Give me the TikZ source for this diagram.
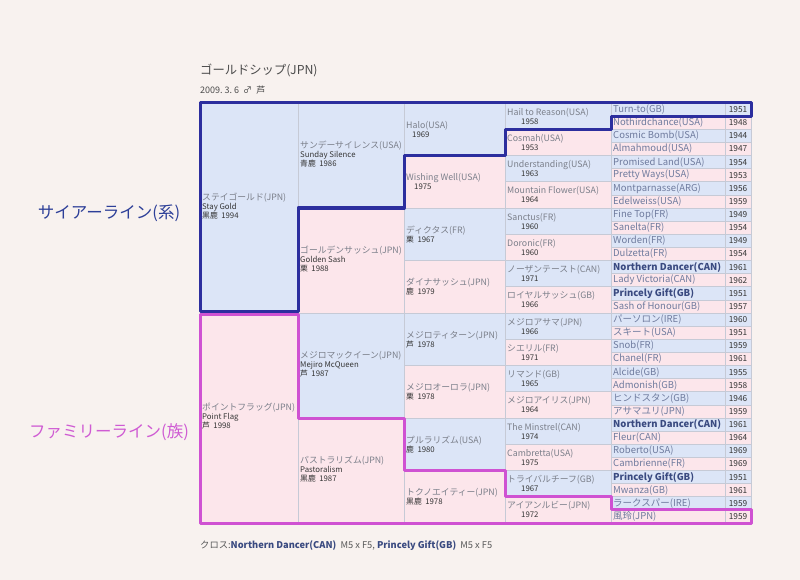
\documentclass[tikz,border=0pt]{standalone}
\usepackage{fontspec}
\setmainfont{Noto Sans CJK JP}
\usetikzlibrary{positioning}

\definecolor{pagebg}{HTML}{F8F2EF}
\definecolor{cell0}{HTML}{DCE5F7}
\definecolor{cell1}{HTML}{FCE6EB}
\definecolor{gridline}{HTML}{C6CAD6}
\definecolor{sireblue}{HTML}{2C2E9E}
\definecolor{familypink}{HTML}{CF52D2}
\definecolor{namegray}{HTML}{7B7F8A}
\definecolor{subdark}{HTML}{353535}
\definecolor{gfivename}{HTML}{6F7B9E}
\definecolor{crossblue}{HTML}{3A4A80}
\definecolor{labelblue}{HTML}{2D3F98}
\definecolor{labelpink}{HTML}{CF5BD3}

\newcommand{\rowh}{13.125}
\newcommand{\tabtop}{103}
\newcommand{\horsename}[1]{{\fontsize{8.8}{9}\selectfont\color{namegray}#1}}
\newcommand{\crossname}[1]{{\bfseries\color{crossblue}#1}}

\tikzset{
  cellbox/.style={draw=gridline, line width=0.6pt},
  celltext/.style={anchor=west, align=left, inner sep=1pt, text=subdark,
    font=\fontsize{7.8}{9}\selectfont},
  gfivetext/.style={anchor=west, inner sep=1pt, text=gfivename,
    font=\fontsize{9.5}{9}\selectfont},
  yeartext/.style={inner sep=0pt, text=subdark, font=\fontsize{8.3}{8}\selectfont},
  sireline/.style={draw=sireblue, line width=3pt, line join=round},
  familyline/.style={draw=familypink, line width=3pt, line join=round},
  sidelabel/.style={font=\fontsize{16.5}{18}\selectfont}
}

\begin{document}
\begin{tikzpicture}[x=1pt,y=-1pt]
    \fill[pagebg] (0,0) rectangle (800,580);
    \useasboundingbox (0,0) rectangle (800,580);

    % title
    \node[anchor=west, inner sep=0pt, text=black!70, font=\fontsize{12.3}{12}\selectfont] (title) at (200,70) {ゴールドシップ(JPN)};
    \node[anchor=west, inner sep=0pt, text=black!70, font=\fontsize{9}{9}\selectfont] (born) at (200,90) {2009.\ 3.\ 6\ \ ♂\ \ 芦};

    % generation 1
    \foreach \i/\nm/\en/\yr in {0/ステイゴールド(JPN)/Stay Gold/黒鹿\ \ 1994, 1/ポイントフラッグ(JPN)/Point Flag/芦\ \ 1998} {
        \draw[cellbox, fill=cell\i] (200,{\tabtop+\i*16*\rowh}) rectangle (298,{\tabtop+(\i+1)*16*\rowh});
        \node[celltext] (gen1-\i) at (201,{\tabtop+(\i+0.49)*16*\rowh}) {\horsename{\nm}\\\en\\\yr};
    }

    % generation 2
    \foreach \i/\nm/\en/\yr in {0/サンデーサイレンス(USA)/Sunday Silence/青鹿\ \ 1986, 1/ゴールデンサッシュ(JPN)/Golden Sash/栗\ \ 1988,
                                2/メジロマックイーン(JPN)/Mejiro McQueen/芦\ \ 1987, 3/パストラリズム(JPN)/Pastoralism/黒鹿\ \ 1987} {
        \pgfmathtruncatemacro\s{mod(\i,2)}
        \draw[cellbox, fill=cell\s] (298,{\tabtop+\i*8*\rowh}) rectangle (404,{\tabtop+(\i+1)*8*\rowh});
        \node[celltext] (gen2-\i) at (299,{\tabtop+(\i+0.49)*8*\rowh}) {\horsename{\nm}\\\en\\\yr};
    }

    % generation 3
    \foreach \i/\nm/\yr in {0/Halo(USA)/\hspace*{6pt}1969, 1/Wishing Well(USA)/\hspace*{8pt}1975,
                            2/ディクタス(FR)/栗\ \ 1967, 3/ダイナサッシュ(JPN)/鹿\ \ 1979,
                            4/メジロティターン(JPN)/芦\ \ 1978, 5/メジロオーロラ(JPN)/栗\ \ 1978,
                            6/プルラリズム(USA)/鹿\ \ 1980, 7/トクノエイティー(JPN)/黒鹿\ \ 1978} {
        \pgfmathtruncatemacro\s{mod(\i,2)}
        \draw[cellbox, fill=cell\s] (404,{\tabtop+\i*4*\rowh}) rectangle (505,{\tabtop+(\i+1)*4*\rowh});
        \node[celltext] (gen3-\i) at (405,{\tabtop+(\i+0.5)*4*\rowh}) {\horsename{\nm}\\\yr};
    }

    % generation 4
    \foreach \nm/\yr [count=\i from 0] in {Hail to Reason(USA)/1958, Cosmah(USA)/1953, Understanding(USA)/1963,
            Mountain Flower(USA)/1964, Sanctus(FR)/1960, Doronic(FR)/1960, ノーザンテースト(CAN)/1971,
            ロイヤルサッシュ(GB)/1966, メジロアサマ(JPN)/1966, シエリル(FR)/1971, リマンド(GB)/1965,
            メジロアイリス(JPN)/1964, The Minstrel(CAN)/1974, Cambretta(USA)/1975,
            トライバルチーフ(GB)/1967, アイアンルビー(JPN)/1972} {
        \pgfmathtruncatemacro\s{mod(\i,2)}
        \draw[cellbox, fill=cell\s] (505,{\tabtop+\i*2*\rowh}) rectangle (611,{\tabtop+(\i+1)*2*\rowh});
        \node[celltext] (gen4-\i) at (506,{\tabtop+(\i+0.5)*2*\rowh}) {\horsename{\nm}\\\hspace*{14pt}\yr};
    }

    % generation 5
    \foreach \nm/\yr [count=\i from 0] in {Turn-to(GB)/1951, Nothirdchance(USA)/1948, Cosmic Bomb(USA)/1944,
            Almahmoud(USA)/1947, Promised Land(USA)/1954, Pretty Ways(USA)/1953, Montparnasse(ARG)/1956,
            Edelweiss(USA)/1959, Fine Top(FR)/1949, Sanelta(FR)/1954, Worden(FR)/1949, Dulzetta(FR)/1954,
            \crossname{Northern Dancer(CAN)}/1961, Lady Victoria(CAN)/1962, \crossname{Princely Gift(GB)}/1951,
            Sash of Honour(GB)/1957, パーソロン(IRE)/1960, スキート(USA)/1951, Snob(FR)/1959, Chanel(FR)/1961,
            Alcide(GB)/1955, Admonish(GB)/1958, ヒンドスタン(GB)/1946, アサマユリ(JPN)/1959,
            \crossname{Northern Dancer(CAN)}/1961, Fleur(CAN)/1964, Roberto(USA)/1969, Cambrienne(FR)/1969,
            \crossname{Princely Gift(GB)}/1951, Mwanza(GB)/1961, ラークスパー(IRE)/1959, 風玲(JPN)/1959} {
        \pgfmathtruncatemacro\s{mod(\i,2)}
        \draw[cellbox, fill=cell\s] (611,{\tabtop+\i*\rowh}) rectangle (725,{\tabtop+(\i+1)*\rowh});
        \draw[cellbox, fill=cell\s] (725,{\tabtop+\i*\rowh}) rectangle (751,{\tabtop+(\i+1)*\rowh});
        \node[gfivetext] (gen5-\i) at (612,{\tabtop+(\i+0.5)*\rowh}) {\nm};
        \node[yeartext] (year5-\i) at (738,{\tabtop+(\i+0.5)*\rowh}) {\yr};
    }

    % sire line
    \draw[sireline] (200,\tabtop) -- (751,\tabtop) -- (751,{\tabtop+\rowh}) -- (611,{\tabtop+\rowh})
        -- (611,{\tabtop+2*\rowh}) -- (505,{\tabtop+2*\rowh}) -- (505,{\tabtop+4*\rowh}) -- (404,{\tabtop+4*\rowh})
        -- (404,{\tabtop+8*\rowh}) -- (298,{\tabtop+8*\rowh}) -- (298,311.5) -- (200,311.5) -- cycle;

    % family line
    \draw[familyline] (200,314.5) -- (298,314.5) -- (298,{\tabtop+24*\rowh}) -- (404,{\tabtop+24*\rowh})
        -- (404,{\tabtop+28*\rowh}) -- (505,{\tabtop+28*\rowh}) -- (505,{\tabtop+30*\rowh}) -- (611,{\tabtop+30*\rowh})
        -- (611,{\tabtop+31*\rowh}) -- (751,{\tabtop+31*\rowh}) -- (751,{\tabtop+32*\rowh}) -- (200,{\tabtop+32*\rowh}) -- cycle;

    \node[sidelabel, text=labelblue] (sirelabel) at (109,213) {サイアーライン(系)};
    \node[sidelabel, text=labelpink] (familylabel) at (109,432) {ファミリーライン(族)};

    % inbreeding
    \node[anchor=west, inner sep=0pt, text=black!65, font=\fontsize{9.3}{9}\selectfont] (cross) at (200,546)
        {クロス:\crossname{Northern Dancer(CAN)}\ \ M5 x F5,\ \crossname{Princely Gift(GB)}\ \ M5 x F5};
\end{tikzpicture}
\end{document}
